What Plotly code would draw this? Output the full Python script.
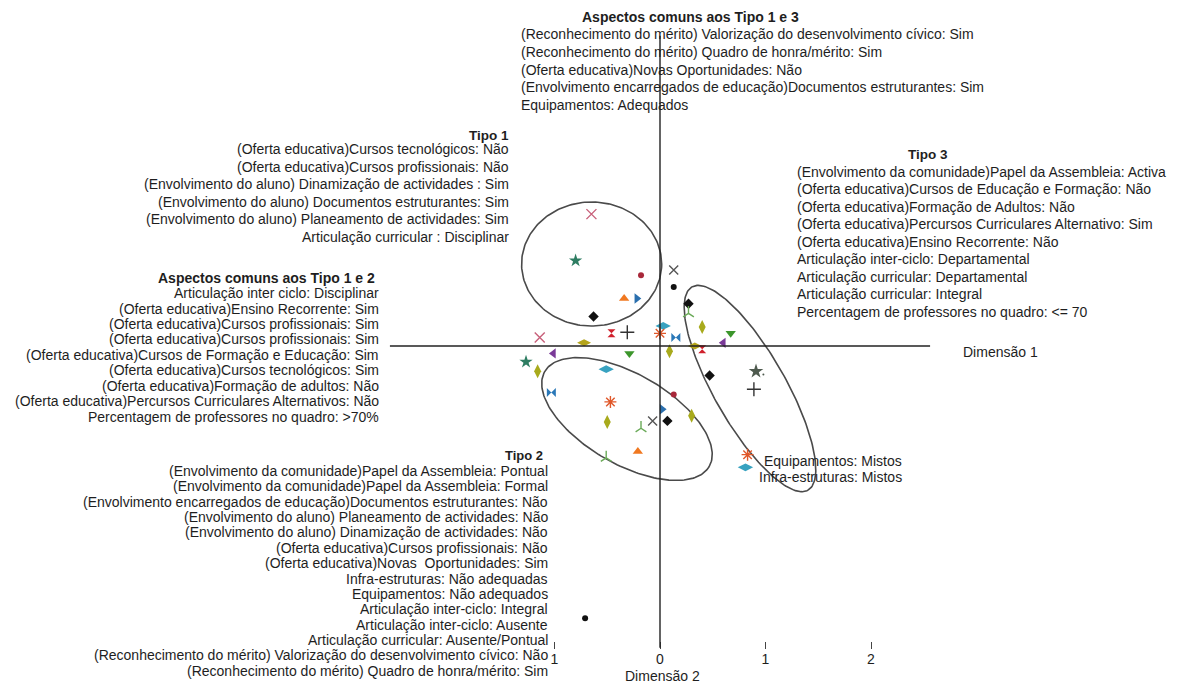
import numpy as np
import plotly.graph_objects as go

# ---------------- data (dimension 1 = x, dimension 2 = y) ----------------
pink_x_x = [-0.65, -1.14]
pink_x_y = [1.25, 0.08]
green_star_x = [-0.80, -1.27]
green_star_y = [0.81, -0.15]
red_circle_x = [-0.18, 0.13]
red_circle_y = [0.67, -0.46]
orange_tri_x = [-0.34, -0.21]
orange_tri_y = [0.45, -1.00]
blue_tri_x = [-0.22, 0.02]
blue_tri_y = [0.45, -0.60]
black_diamond_x = [-0.63, 0.27, 0.47, 0.07]
black_diamond_y = [0.28, 0.40, -0.28, -0.71]
grey_x_x = [0.13, -0.07]
grey_x_y = [0.72, -0.71]
black_circle_x = [0.13, -0.71]
black_circle_y = [0.56, -2.58]
green_y_x = [0.27, -0.18, -0.51]
green_y_y = [0.31, -0.78, -1.06]
olive_vert_x = [0.40, 0.09, -1.16, 0.30, -0.50]
olive_vert_y = [0.18, -0.05, -0.24, -0.66, -0.72]
olive_horiz_x = [-0.72, 0.33]
olive_horiz_y = [0.03, 0.00]
green_tridown_x = [0.67, -0.29]
green_tridown_y = [0.12, -0.07]
teal_horiz_x = [0.03, -0.51, 0.81]
teal_horiz_y = [0.19, -0.22, -1.15]
red_hourglass_x = [-0.46, 0.40]
red_hourglass_y = [0.12, -0.03]
black_plus_x = [-0.31, 0.89]
black_plus_y = [0.13, -0.41]
orange_ast_x = [0.00, -0.47, 0.83]
orange_ast_y = [0.12, -0.53, -1.03]
blue_bowtie_x = [0.15, -1.03]
blue_bowtie_y = [0.08, -0.44]
purple_tri_x = [0.60, -1.01]
purple_tri_y = [0.03, -0.07]
dark_star_x = [0.91]
dark_star_y = [-0.24]
dot_x = [0.98]
dot_y = [-0.27]

# cluster ellipses: centre x, centre y, semi-axis a, semi-axis b, angle (deg)
ellipse_cx = [-0.648, -0.313, 0.853]
ellipse_cy = [0.777, -0.692, -0.403]
ellipse_a = [0.664, 0.900, 1.109]
ellipse_b = [0.588, 0.427, 0.340]
ellipse_ang = [0.0, -30.0, -60.3]

tick_vals = [-1, 0, 1, 2]
tick_text = ["1", "0", "1", "2"]

title_13 = "Aspectos comuns aos Tipo 1 e 3"
lines_13 = [
    "(Reconhecimento do mérito) Valorização do desenvolvimento cívico: Sim",
    "(Reconhecimento do mérito) Quadro de honra/mérito: Sim",
    "(Oferta educativa)Novas Oportunidades: Não",
    "(Envolvimento encarregados de educação)Documentos estruturantes: Sim",
    "Equipamentos: Adequados",
]
title_t1 = "Tipo 1"
lines_t1 = [
    "(Oferta educativa)Cursos tecnológicos: Não",
    "(Oferta educativa)Cursos profissionais: Não",
    "(Envolvimento do aluno) Dinamização de actividades : Sim",
    "(Envolvimento do aluno) Documentos estruturantes: Sim",
    "(Envolvimento do aluno) Planeamento de actividades: Sim",
    "Articulação curricular : Disciplinar",
]
title_t3 = "Tipo 3"
lines_t3 = [
    "(Envolvimento da comunidade)Papel da Assembleia: Activa",
    "(Oferta educativa)Cursos de Educação e Formação: Não",
    "(Oferta educativa)Formação de Adultos: Não",
    "(Oferta educativa)Percursos Curriculares Alternativo: Sim",
    "(Oferta educativa)Ensino Recorrente: Não",
    "Articulação inter-ciclo: Departamental",
    "Articulação curricular: Departamental",
    "Articulação curricular: Integral",
    "Percentagem de professores no quadro: <= 70",
]
title_12 = "Aspectos comuns aos Tipo 1 e 2"
lines_12 = [
    "Articulação inter ciclo: Disciplinar",
    "(Oferta educativa)Ensino Recorrente: Sim",
    "(Oferta educativa)Cursos profissionais: Sim",
    "(Oferta educativa)Cursos profissionais: Sim",
    "(Oferta educativa)Cursos de Formação e Educação: Sim",
    "(Oferta educativa)Cursos tecnológicos: Sim",
    "(Oferta educativa)Formação de adultos: Não",
    "(Oferta educativa)Percursos Curriculares Alternativos: Não",
    "Percentagem de professores no quadro: >70%",
]
title_t2 = "Tipo 2"
lines_t2 = [
    "(Envolvimento da comunidade)Papel da Assembleia: Pontual",
    "(Envolvimento da comunidade)Papel da Assembleia: Formal",
    "(Envolvimento encarregados de educação)Documentos estruturantes: Não",
    "(Envolvimento do aluno) Planeamento de actividades: Não",
    "(Envolvimento do aluno) Dinamização de actividades: Não",
    "(Oferta educativa)Cursos profissionais: Não",
    "(Oferta educativa)Novas  Oportunidades: Sim",
    "Infra-estruturas: Não adequadas",
    "Equipamentos: Não adequados",
    "Articulação inter-ciclo: Integral",
    "Articulação inter-ciclo: Ausente",
    "Articulação curricular: Ausente/Pontual",
    "(Reconhecimento do mérito) Valorização do desenvolvimento cívico: Não",
    "(Reconhecimento do mérito) Quadro de honra/mérito: Sim",
]
lines_mistos = ["Equipamentos: Mistos", "Infra-estruturas: Mistos"]
axis_title_1 = "Dimensão 1"
axis_title_2 = "Dimensão 2"

# ---------------- layout geometry ----------------
OFF = 8              # page body margin offset
W, H = 1181 - OFF, 686 - OFF
PPU = 105.5          # pixels per unit
ORX, ORY = 660 - OFF, 346 - OFF  # origin in figure pixels
xr = [-ORX / PPU, (W - ORX) / PPU]
yr = [-(H - ORY) / PPU, ORY / PPU]

FONT = "Arial, 'Liberation Sans', sans-serif"
TXT = "#1e1e1e"
FS = 14

fig = go.Figure()

def add_markers(x, y, symbol, color, size, open_=False, lw=1.4):
    m = dict(symbol=symbol, color=color, size=size)
    if open_:
        m["line"] = dict(color=color, width=lw)
    else:
        m["line"] = dict(width=0)
    fig.add_trace(go.Scatter(x=x, y=y, mode="markers", marker=m,
                             showlegend=False, hoverinfo="skip"))

# ellipses
t = np.linspace(0, 2 * np.pi, 200)
for cx, cy, a, b, ang in zip(ellipse_cx, ellipse_cy, ellipse_a, ellipse_b, ellipse_ang):
    th = np.deg2rad(ang)
    ex = cx + a * np.cos(t) * np.cos(th) - b * np.sin(t) * np.sin(th)
    ey = cy + a * np.cos(t) * np.sin(th) + b * np.sin(t) * np.cos(th)
    fig.add_trace(go.Scatter(x=ex, y=ey, mode="lines",
                             line=dict(color="#4a4a4a", width=1.6),
                             showlegend=False, hoverinfo="skip"))

add_markers(pink_x_x, pink_x_y, "x-thin-open", "#c8607a", 10, True)
add_markers(green_star_x, green_star_y, "star", "#2e7d62", 10)
add_markers(red_circle_x, red_circle_y, "circle", "#a8283a", 6)
add_markers(orange_tri_x, orange_tri_y, "triangle-up", "#f07820", 9)
add_markers(blue_tri_x, blue_tri_y, "triangle-right", "#2a6fae", 9)
add_markers(black_diamond_x, black_diamond_y, "diamond", "#111111", 8)
add_markers(grey_x_x, grey_x_y, "x-thin-open", "#555555", 9, True)
add_markers(black_circle_x, black_circle_y, "circle", "#111111", 6)
add_markers(green_y_x, green_y_y, "y-up-open", "#6aaa58", 9, True)
add_markers(olive_vert_x, olive_vert_y, "diamond-tall", "#a8aa1c", 10)
add_markers(olive_horiz_x, olive_horiz_y, "diamond-wide", "#b5a51c", 10)
add_markers(green_tridown_x, green_tridown_y, "triangle-down", "#3c962c", 9)
add_markers(teal_horiz_x, teal_horiz_y, "diamond-wide", "#38a2c0", 11)
add_markers(red_hourglass_x, red_hourglass_y, "hourglass", "#d0202c", 8)
add_markers(black_plus_x, black_plus_y, "cross-thin-open", "#333333", 10, True)
add_markers(orange_ast_x, orange_ast_y, "asterisk-open", "#e0582a", 10, True)
add_markers(blue_bowtie_x, blue_bowtie_y, "bowtie", "#2a78b8", 9)
add_markers(purple_tri_x, purple_tri_y, "triangle-left", "#7a3a98", 9)
add_markers(dark_star_x, dark_star_y, "star", "#4e5a4e", 11)
add_markers(dot_x, dot_y, "circle", "#4e5a4e", 2)

# axis lines
shapes = [
    dict(type="line", xref="x", yref="y", x0=-2.56, x1=2.56, y0=0, y1=0,
         line=dict(color="#222222", width=1.4)),
    dict(type="line", xref="x", yref="y", x0=0, x1=0, y0=-2.86, y1=2.94,
         line=dict(color="#222222", width=1.4)),
]

annotations = []

def px_x(p):
    return (p - OFF) / W

def px_y(p):
    return 1 - (p - OFF) / H

def txt(s, x, y, anchor, bold=False, size=FS):
    annotations.append(dict(
        text=f"<b>{s}</b>" if bold else s, xref="paper", yref="paper",
        x=px_x(x), y=px_y(y), xanchor=anchor, yanchor="middle",
        showarrow=False, font=dict(family=FONT, size=size, color=TXT)))

def block(title, t_xy, t_anchor, t_size, lines, x, y0, step, anchor):
    txt(title, t_xy[0], t_xy[1], t_anchor, bold=True, size=t_size)
    for i, s in enumerate(lines):
        txt(s, x, y0 + i * step, anchor)

block(title_13, (690, 17), "center", 14, lines_13, 519, 34, 17.8, "left")
block(title_t1, (511, 135.7), "right", 13.5, lines_t1, 511, 149.3, 17.5, "right")
block(title_t3, (928, 154), "center", 13.5, lines_t3, 795, 171.7, 17.5, "left")
block(title_12, (377, 278), "right", 14, lines_12, 381, 293.3, 15.4, "right")
block(title_t2, (545, 455), "right", 13, lines_t2, 550, 471, 15.36, "right")
for i, s in enumerate(lines_mistos):
    txt(s, 904, 460.7 + i * 16.6, "right")
txt(axis_title_1, 1000, 351.7, "center")
txt(axis_title_2, 662, 676, "center")

fig.update_layout(
    width=W, height=H,
    margin=dict(l=0, r=0, t=0, b=0),
    paper_bgcolor="white", plot_bgcolor="white",
    shapes=shapes, annotations=annotations,
    xaxis=dict(range=xr, showgrid=False, zeroline=False, showline=False,
               tickvals=tick_vals, ticktext=tick_text, ticks="inside",
               ticklen=7, tickwidth=1.2, tickcolor="#444444",
               tickfont=dict(family=FONT, size=FS, color=TXT),
               anchor="free", position=(686 - 649) / H, fixedrange=True),
    yaxis=dict(range=yr, showgrid=False, zeroline=False, showline=False,
               showticklabels=False, ticks="", fixedrange=True),
    showlegend=False,
)

fig.write_html("out.html")
